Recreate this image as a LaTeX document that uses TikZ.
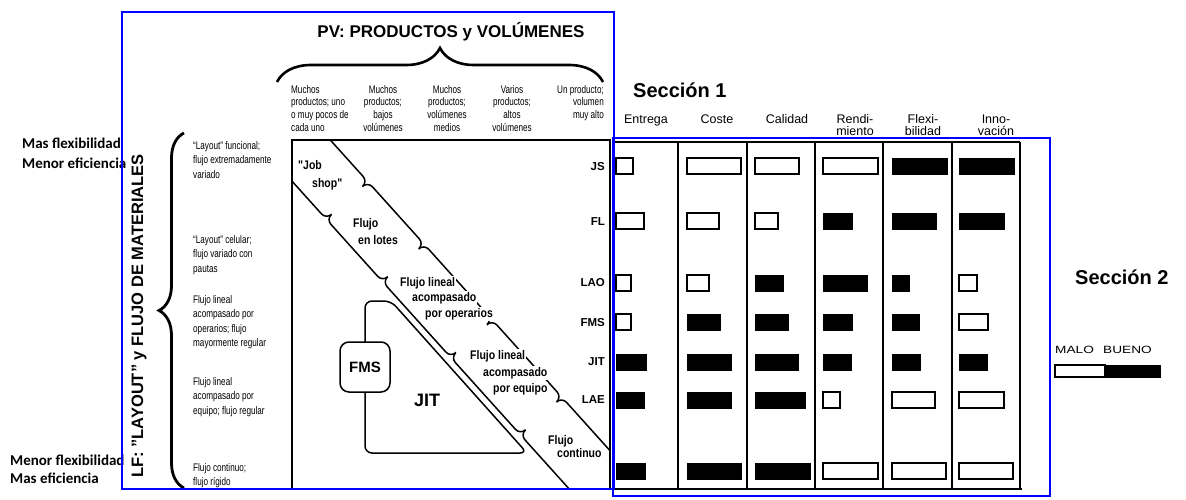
\documentclass[tikz,border=0pt]{standalone}
\usepackage{fontspec}
\setmainfont{Liberation Sans}
\newfontfamily\narrowfont[FakeStretch=0.74]{Liberation Sans}
\newfontfamily\flowfont[FakeStretch=0.84]{Liberation Sans}
\newfontfamily\notefont{Carlito}
\newfontfamily\widefont[FakeStretch=1.3]{Liberation Sans}
\usetikzlibrary{decorations.pathreplacing, calc}

\begin{document}
\begin{tikzpicture}[x=1pt, y=-1pt,
  frame/.style={draw=blue, line width=1.8pt},
  lbl/.style={font=\narrowfont\fontsize{11}{14.5}\selectfont, align=left, inner sep=0pt, anchor=north west},
  head/.style={font=\narrowfont\fontsize{11}{12.7}\selectfont, align=center, inner sep=0pt, anchor=north},
  crit/.style={font=\fontsize{12.5}{12}\selectfont, align=center, inner sep=0pt, anchor=north},
  code/.style={font=\bfseries\fontsize{11.5}{12}\selectfont, anchor=east, inner sep=0pt},
  flow/.style={font=\flowfont\bfseries\fontsize{12.5}{14}\selectfont, anchor=north west, inner sep=1pt, fill=white},
  note/.style={font=\notefont\bfseries\fontsize{15}{18}\selectfont, anchor=west, inner sep=0pt},
  sec/.style={font=\bfseries\fontsize{20}{24}\selectfont, anchor=west, inner sep=0pt},
  good/.style={draw=black, fill=black, line width=0.6pt},
  bad/.style={draw=black, fill=white, line width=1.2pt},
  edge/.style={line width=1.5pt, rounded corners=7pt},
  grid/.style={line width=1.1pt}
]
  \useasboundingbox (0,0) rectangle (1186,500);

  % notas de la izquierda
  \node[note] (masflex) at (22,143) {Mas flexibilidad};
  \node[note] (menefic) at (22,163) {Menor eficiencia};
  \node[note] (menflex) at (10,460) {Menor flexibilidad};
  \node[note] (masefic) at (10,478) {Mas eficiencia};

  % titulos
  \node[font=\bfseries\fontsize{17}{20}\selectfont] (pv) at (451,32) {PV: PRODUCTOS y VOLÚMENES};
  \draw[line width=2.6pt, decorate, decoration={brace, amplitude=34pt}] (277,82) -- (603,82);
  \node[font=\bfseries\fontsize{16.5}{20}\selectfont, rotate=90] (lf) at (139,316) {LF: "LAYOUT" y FLUJO DE MATERIALES};
  \draw[line width=2.8pt, decorate, decoration={brace, amplitude=25pt}] (184,488) -- (184,133);

  % columnas de productos y volumenes
  \node[head, anchor=north west, align=left] (pv1) at (291,85) {Muchos\\productos; uno\\o muy pocos de\\cada uno};
  \node[head] (pv2) at (383,85) {Muchos\\productos;\\bajos\\volúmenes};
  \node[head] (pv3) at (447,85) {Muchos\\productos;\\volúmenes\\medios};
  \node[head] (pv4) at (512,85) {Varios\\productos;\\altos\\volúmenes};
  \node[head, anchor=north east, align=right] (pv5) at (604,85) {Un producto;\\volumen\\muy alto};

  % filas de layout
  \node[lbl] (lf1) at (193,141) {“Layout” funcional;\\flujo extremadamente\\variado};
  \node[lbl] (lf2) at (193,235) {“Layout” celular;\\flujo variado con\\pautas};
  \node[lbl] (lf3) at (193,295) {Flujo lineal\\acompasado por\\operarios; flujo\\mayormente regular};
  \node[lbl] (lf4) at (193,377) {Flujo lineal\\acompasado por\\equipo; flujo regular};
  \node[lbl] (lf5) at (193,463) {Flujo continuo;\\flujo rígido};

  % matriz
  \draw[edge, rounded corners=0pt] (292,140) rectangle (610,489);
  \begin{scope}
    \clip (292,140) rectangle (610,489);
    \begin{scope}[shift={(333,143)}, rotate=-48]
      \foreach \a/\b in {-80/52, 52/136, 136/238, 238/342, 342/480} {
        \draw[edge] (\a,7) -- (\a,0) -- (\b,0) -- (\b,7);
        \draw[edge] (\a,49) -- (\a,56) -- (\b,56) -- (\b,49);
      }
    \end{scope}
  \end{scope}
  \draw[edge] (365,380) -- (365,301) -- (391,301) -- (527,453) -- (365,453) -- cycle;
  \node[draw, fill=white, line width=1.5pt, rounded corners=9pt, minimum size=50pt,
        font=\bfseries\fontsize{15}{18}\selectfont] (fms) at (365,367) {FMS};
  \node[font=\bfseries\fontsize{18}{20}\selectfont] (jit) at (427,400) {JIT};

  \node[flow] (js1) at (297,159) {"Job};
  \node[flow] (js2) at (311,177) {shop"};
  \node[flow] (lot1) at (352,217) {Flujo};
  \node[flow] (lot2) at (357,234) {en lotes};
  \node[flow] (op1) at (399,276) {Flujo lineal};
  \node[flow] (op2) at (411,291) {acompasado};
  \node[flow] (op3) at (424,307) {por operarios};
  \node[flow] (eq1) at (469,349) {Flujo lineal};
  \node[flow] (eq2) at (482,366) {acompasado};
  \node[flow] (eq3) at (492,382) {por equipo};
  \node[flow] (co1) at (547,434) {Flujo};
  \node[flow] (co2) at (556,447) {continuo};

  \node[code] (cJS) at (605,167) {JS};
  \node[code] (cFL) at (605,222) {FL};
  \node[code] (cLAO) at (605,283) {LAO};
  \node[code] (cFMS) at (605,323) {FMS};
  \node[code] (cJIT) at (605,362) {JIT};
  \node[code] (cLAE) at (605,400) {LAE};

  % seccion 1: criterios
  \node[sec] (sec1) at (633,90) {Sección 1};
  \node[crit] (entrega) at (646,114) {\vphantom{Ed}Entrega};
  \node[crit] (coste) at (717,114) {\vphantom{Ed}Coste};
  \node[crit] (calidad) at (787,114) {\vphantom{Ed}Calidad};
  \node[crit] (rend) at (855,114) {\vphantom{Ed}Rendi-\\miento};
  \node[crit] (flex) at (923,114) {\vphantom{Ed}Flexi-\\bilidad};
  \node[crit] (innov) at (996,114) {\vphantom{Ed}Inno-\\vación};

  \draw[grid] (613,142) -- (1020,142);
  \draw[grid] (613,489) -- (1022,489);
  \foreach \x in {613,678,747,815,883,952,1020}
    \draw[grid] (\x,142) -- (\x,489);

  % valoraciones (ancho/tipo por columna)
  \foreach \yy/\cells in {
      166/{17/bad,54/bad,44/bad,55/bad,55/good,55/good},
      221/{28/bad,32/bad,23/bad,29/good,44/good,45/good},
      283/{15/bad,22/bad,28/good,44/good,17/good,18/bad},
      322/{15/bad,33/good,33/good,29/good,27/good,29/bad},
      362/{30/good,44/good,43/good,28/good,28/good,28/good},
      400/{28/good,44/good,50/good,17/bad,43/bad,45/bad},
      471/{29/good,54/good,55/good,55/bad,54/bad,54/bad}} {
    \foreach \w/\k [count=\c] in \cells {
      \pgfmathsetmacro\xx{{616,687,755,823,892,959}[\c-1]}
      \draw[\k] (\xx,\yy-8) rectangle ++(\w,16);
    }
  }

  % seccion 2: leyenda
  \node[sec] (sec2) at (1075,277) {Sección 2};
  \node[font=\widefont\fontsize{10.5}{12}\selectfont, anchor=west, inner sep=0pt] (malo) at (1055,350) {MALO};
  \node[font=\widefont\fontsize{10.5}{12}\selectfont, anchor=west, inner sep=0pt] (bueno) at (1103,350) {BUENO};
  \draw[bad] (1055,365) rectangle (1105,377);
  \draw[good] (1105,365) rectangle (1160,377);

  % marcos azules
  \draw[frame] (122,12) rectangle (614,489);
  \draw[frame] (613,138) rectangle (1050,496);
\end{tikzpicture}
\end{document}
